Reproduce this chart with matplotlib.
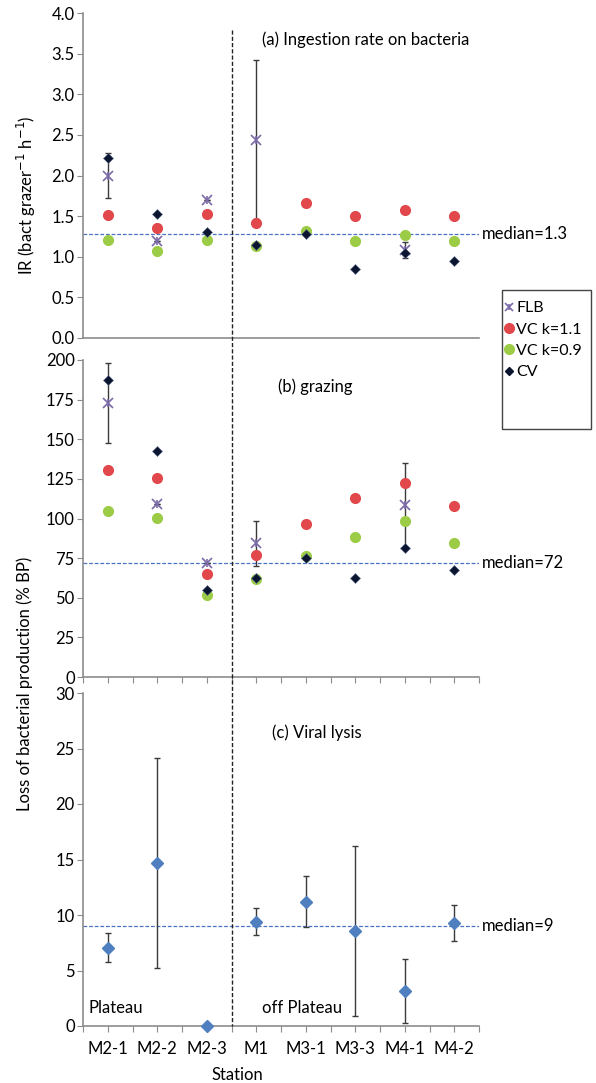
import numpy as np
import matplotlib
matplotlib.use("Agg")
import matplotlib.pyplot as plt
from matplotlib.lines import Line2D
from matplotlib.patches import Rectangle

plt.rcParams['font.family'] = ['Lato', 'DejaVu Sans']

stations = ["M2-1", "M2-2", "M2-3", "M1", "M3-1", "M3-3", "M4-1", "M4-2"]
nan = np.nan

# (a) Ingestion rate on bacteria
ir_flb = [2.00, 1.19, 1.70, 2.44, nan, nan, 1.08, nan]
ir_flb_err = [0.28, 0.0, 0.0, 0.98, nan, nan, 0.10, nan]
ir_vc11 = [1.52, 1.35, 1.53, 1.42, 1.66, 1.50, 1.58, 1.50]
ir_vc09 = [1.21, 1.07, 1.21, 1.13, 1.32, 1.19, 1.27, 1.19]
ir_cv = [2.21, 1.53, 1.30, 1.14, 1.28, 0.85, 1.05, 0.95]
ir_median = 1.28

# (b) grazing
gr_flb = [172.7, 109.1, 72.1, 84.3, nan, nan, 108.5, nan]
gr_flb_err = [25.3, 0.0, 0.0, 14.1, nan, nan, 26.7, nan]
gr_vc11 = [130.6, 125.8, 64.8, 77.0, 96.3, 112.7, 122.6, 107.9]
gr_vc09 = [104.7, 100.5, 51.7, 61.6, 76.5, 88.5, 98.4, 84.4]
gr_cv = [187.4, 142.8, 54.9, 62.7, 74.9, 62.7, 81.6, 67.5]
gr_median = 72

# (c) Viral lysis
vl = [7.05, 14.66, 0.0, 9.4, 11.2, 8.56, 3.15, 9.3]
vl_err = [1.3, 9.45, 0.0, 1.2, 2.3, 7.7, 2.9, 1.6]
vl_median = 9

W, H = 596, 1083
fig = plt.figure(figsize=(W / 100, H / 100), dpi=100)

def fa(left_px, top_px, right_px, bottom_px):
    return [left_px / W, 1 - bottom_px / H, (right_px - left_px) / W, (bottom_px - top_px) / H]

axL, axR = 83, 479
ax_a = fig.add_axes(fa(axL, 13, axR, 338))
ax_b = fig.add_axes(fa(axL, 360, axR, 677))
ax_c = fig.add_axes(fa(axL, 693, axR, 1026))

x = np.arange(len(stations))
spine_col = '#8c8c8c'
red = '#e2474b'
green = '#9ccc45'
cvcol = '#0b1530'
flbcol = '#7b6aa8'
vlcol = '#4f7fbf'
medcol = '#4a72c4'
errcol = '#3a3a3a'
fs = 12

for ax in (ax_a, ax_b, ax_c):
    ax.set_xlim(-0.5, len(stations) - 0.5)
    for s in ('top', 'right'):
        ax.spines[s].set_visible(False)
    for s in ('left', 'bottom'):
        ax.spines[s].set_color(spine_col)
        ax.spines[s].set_linewidth(1.2)
    ax.tick_params(axis='y', direction='out', length=4, color=spine_col, labelsize=fs, pad=2)
    ax.set_xticks(np.arange(-0.5, len(stations), 0.5))
    ax.tick_params(axis='x', direction='out', length=4, color=spine_col, labelsize=fs)
    ax.patch.set_alpha(0)

def plot_grazing(ax, flb, flb_err, vc11, vc09, cv):
    ax.errorbar(x, flb, yerr=flb_err, fmt='none', ecolor=errcol, elinewidth=1.0,
                capsize=2.5, capthick=1.0, zorder=2)
    ax.plot(x, vc11, 'o', color=red, ms=7, mec=red, zorder=3)
    ax.plot(x, vc09, 'o', color=green, ms=7, mec=green, zorder=3)
    ax.plot(x, flb, 'x', color=flbcol, ms=7, mew=1.2, zorder=4)
    ax.plot(x, flb, '|', color=flbcol, ms=6, mew=1.2, zorder=4)
    ax.plot(x, cv, 'D', color=cvcol, ms=5.2, mec='#5a6a8a', mew=0.4, zorder=5)

def px2x(px):
    return (px - axL) / ((axR - axL) / len(stations)) - 0.5

# (a)
plot_grazing(ax_a, ir_flb, ir_flb_err, ir_vc11, ir_vc09, ir_cv)
ax_a.set_ylim(0, 4.0)
ax_a.set_yticks(np.arange(0, 4.01, 0.5))
ax_a.set_yticklabels([f"{v:.1f}" for v in np.arange(0, 4.01, 0.5)])
ax_a.tick_params(axis='x', length=0, labelbottom=False)
ax_a.axhline(ir_median, color=medcol, ls=(0, (3, 1.5)), lw=0.9, zorder=1)
ax_a.text(7.55, ir_median, "median=1.3", fontsize=fs, va='center', ha='left')
ax_a.text(px2x(262), 3.67, "(a) Ingestion rate on bacteria", fontsize=fs, va='center', ha='left')

# (b)
plot_grazing(ax_b, gr_flb, gr_flb_err, gr_vc11, gr_vc09, gr_cv)
ax_b.set_ylim(0, 200)
ax_b.set_yticks(np.arange(0, 201, 25))
ax_b.tick_params(axis='x', labelbottom=False)
ax_b.axhline(gr_median, color=medcol, ls=(0, (3, 1.5)), lw=0.9, zorder=1)
ax_b.text(7.55, gr_median, "median=72", fontsize=fs, va='center', ha='left')
ax_b.text(px2x(278), 183, "(b) grazing", fontsize=fs, va='center', ha='left')

# (c)
ax_c.errorbar(x, vl, yerr=vl_err, fmt='none', ecolor=errcol, elinewidth=1.0,
              capsize=2.5, capthick=1.0, zorder=2)
ax_c.plot(x, vl, 'D', color=vlcol, ms=6, zorder=3, clip_on=False)
ax_c.set_ylim(0, 30)
ax_c.set_yticks(np.arange(0, 31, 5))
ax_c.axhline(vl_median, color=medcol, ls=(0, (3, 1.5)), lw=0.9, zorder=1)
ax_c.text(7.55, vl_median, "median=9", fontsize=fs, va='center', ha='left')
ax_c.text(px2x(272), 26.4, "(c) Viral lysis", fontsize=fs, va='center', ha='left')
ax_c.text(px2x(89), 1.6, "Plateau", fontsize=fs, va='center', ha='left')
ax_c.text(px2x(262), 1.6, "off Plateau", fontsize=fs, va='center', ha='left')
ax_c.set_xticklabels(["" if i % 2 == 0 else stations[i // 2] for i in range(2 * len(stations) + 1)])
ax_c.tick_params(axis='x', pad=7)

fig.text(237 / W, 1 - 1075 / H, "Station", fontsize=fs, ha='center', va='center')
fig.text(26 / W, 1 - 195 / H, "IR (bact grazer$^{-1}$ h$^{-1}$)", fontsize=fs,
         ha='center', va='center', rotation=90)
fig.text(25 / W, 1 - 684 / H, "Loss of bacterial production (% BP)", fontsize=fs,
         ha='center', va='center', rotation=90)

# dividing dashed line between Plateau / off Plateau
xdiv = (axL + (2.5 + 0.5) / len(stations) * (axR - axL)) / W
fig.add_artist(Line2D([xdiv, xdiv], [1 - 30 / H, 1 - 1026 / H], transform=fig.transFigure,
                      color='#222222', lw=1.0, ls=(0, (3, 1.5))))

# legend box (taller than its content, as in the original)
fig.add_artist(Rectangle((502 / W, 1 - 429 / H), 89 / W, 139 / H, transform=fig.transFigure,
                         fill=False, edgecolor='#444444', lw=1.0))
handles = [
    (Line2D([], [], marker='x', color=flbcol, ls='none', ms=6, mew=1.2),
     Line2D([], [], marker='|', color=flbcol, ls='none', ms=5, mew=1.2)),
    Line2D([], [], marker='o', color=red, ls='none', ms=7),
    Line2D([], [], marker='o', color=green, ls='none', ms=7),
    Line2D([], [], marker='D', color=cvcol, ls='none', ms=4.5),
]
labels = ["FLB", "VC k=1.1", "VC k=0.9", "CV"]
leg = fig.legend(handles, labels, loc='upper left', bbox_to_anchor=(505 / W, 1 - 301 / H),
                 frameon=False, fontsize=11.5,
                 handlelength=0.5, handletextpad=0.2, borderpad=0.0, labelspacing=0.45,
                 borderaxespad=0)

fig.savefig("out.png", dpi=100)
